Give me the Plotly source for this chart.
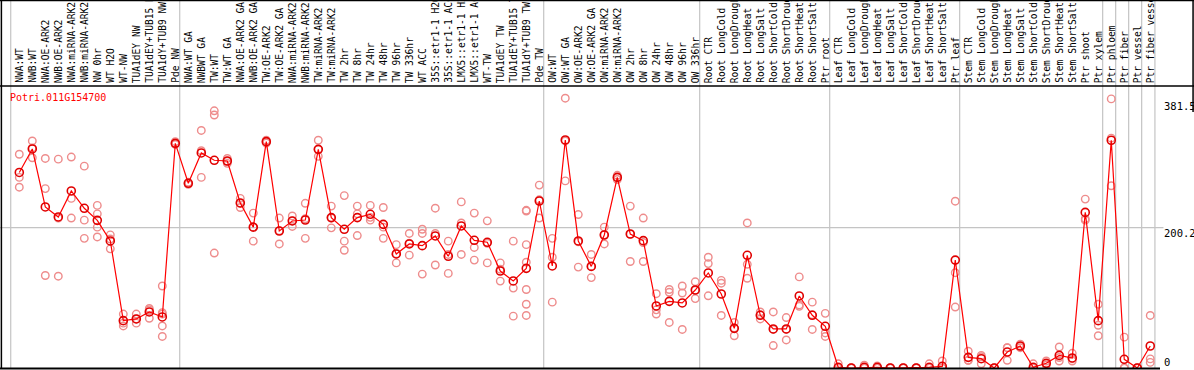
import plotly.graph_objects as go

gene_id = "Potri.011G154700"

labels = [
    "NWA:WT", "NWB:WT", "NWA:OE-ARK2", "NWB:OE-ARK2", "NWA:miRNA-ARK2", "NWB:miRNA-ARK2",
    "NW 0hr", "WT H2O", "WT-NW", "TUA1dEY NW", "TUA1dEY+TUB15 NW", "TUA1dY+TUB9 NW", "Pde NW",
    "NWA:WT GA", "NWBWT GA", "TW:WT", "TW:WT GA", "NWA:OE-ARK2 GA", "NWB:OE-ARK2 GA",
    "TW:OE-ARK2", "TW:OE-ARK2 GA", "NWA:miRNA-ARK2 GA", "NWB:miRNA-ARK2 GA", "TW:miRNA-ARK2",
    "TW:miRNA-ARK2", "TW 2hr", "TW 8hr", "TW 24hr", "TW 48hr", "TW 96hr", "TW 336hr", "WT ACC",
    "35S::etr1-1 H2O", "35S::etr1-1 ACC", "LMX5::etr1-1 H2O", "LMX5::etr1-1 ACC", "WT-TW",
    "TUA1dEY TW", "TUA1dEY+TUB15 TW", "TUA1dY+TUB9 TW", "Pde TW",
    "OW:WT", "OW:WT GA", "OW:OE-ARK2", "OW:OE-ARK2 GA", "OW:miRNA-ARK2", "OW:miRNA-ARK2",
    "OW 2hr", "OW 8hr", "OW 24hr", "OW 48hr", "OW 96hr", "OW 336hr",
    "Root CTR", "Root LongCold", "Root LongDrought", "Root LongHeat", "Root LongSalt",
    "Root ShortCold", "Root ShortDrought", "Root ShortHeat", "Root ShortSalt", "Ptr root",
    "Leaf CTR", "Leaf LongCold", "Leaf LongDrought", "Leaf LongHeat", "Leaf LongSalt",
    "Leaf ShortCold", "Leaf ShortDrought", "Leaf ShortHeat", "Leaf ShortSalt", "Ptr leaf",
    "Stem CTR", "Stem LongCold", "Stem LongDrought", "Stem LongHeat", "Stem LongSalt",
    "Stem ShortCold", "Stem ShortDrought", "Stem ShortHeat", "Stem ShortSalt",
    "Ptr shoot", "Ptr xylem", "Ptr phloem", "Ptr fiber", "Ptr vessel", "Ptr fiber vessel",
]

means = [
    279, 312.6, 229.8, 215.5, 252.6, 227.9, 210.7, 181.3, 67.6, 70, 80, 72.8, 320.6,
    263.6, 306.9, 296.4, 295.4, 235.5, 201, 323, 195.5, 209.8, 211.2, 312, 214.6,
    197.9, 214.6, 219.3, 205, 162.7, 177, 174.6, 188.4, 159.4, 202.7, 182.2, 179.4,
    138.4, 124.2, 142.2, 238.3,
    145.6, 325.4, 181.3, 145, 189.8, 272, 191.2, 181.7, 88.5, 95.1, 92.8, 111.3,
    135.6, 105.6, 56.6, 160.8, 75.2, 55.7, 55.7, 102.8, 75.2, 59.5,
    1, 0, 1, 1, 0, 0, 0, 1, 2.4, 154,
    15.2, 13.3, 0, 22.8, 31.4, 1, 6.7, 18, 14.3, 222, 67.6,
    325, 12.4, 0, 31.4,
]

replicates = [
    [305, 272, 258], [324, 314, 300], [299, 256, 132], [298, 214, 131], [301, 242, 214],
    [288, 211, 185], [232, 220, 201, 187], [190, 184, 170], [77, 64, 60], [77, 70, 64],
    [85, 83, 71], [117, 79, 77, 60, 45], [323, 320, 319],
    [265, 263, 262], [339, 310, 272], [367, 361, 164], [299, 295, 292], [242, 235, 229],
    [221, 201, 181], [325, 323, 321], [214, 196, 177], [217, 210, 202], [235, 213, 185],
    [325, 312, 302], [231, 214, 200], [246, 181, 168], [231, 220, 189], [232, 215, 211],
    [229, 201, 185], [176, 163, 150], [192, 178, 161], [198, 192, 134], [228, 192, 147],
    [181, 162, 135], [237, 207, 162], [221, 172, 154], [210, 178, 150], [150, 141, 124],
    [181, 114, 74], [225, 224, 176, 151, 112, 91, 75], [261, 240, 214],
    [185, 158, 94], [385, 324, 267], [219, 180, 144], [162, 145, 129], [201, 190, 177],
    [275, 272, 269], [231, 191, 152], [214, 179, 152], [106, 83, 77], [112, 108, 65],
    [117, 107, 55], [123, 111, 99],
    [158, 149, 103], [125, 121, 75], [65, 57, 46], [207, 148, 128], [80, 76, 70],
    [80, 55, 32], [72, 55, 40], [130, 90, 88], [94, 76, 55], [78, 50, 45],
    [6, 0, 0], [0, 0, 0], [4, 0, 0], [3, 0, 0], [0, 0, 0], [0, 0, 0], [0, 0, 0],
    [6, 0, 0], [10, 0, 0], [238, 136, 87],
    [24, 11, 11], [18, 16, 6], [0, 0, 0], [29, 29, 11], [34, 31, 29], [6, 0, 0],
    [10, 6, 4], [30, 15, 10], [21, 13, 10], [241, 213, 211], [91, 61, 46],
    [384, 328, 260], [44, 0, 0], [0, 0, 0], [75, 13, 8],
]

# first category index of each sample group (vertical separators)
group_starts = [0, 13, 41, 53, 63, 73, 84, 85, 86, 87]

axis_ticks = [0, 200.2, 381.5]

W, H = 1194, 370
T, B, L, R = 86, 2, 0, 34
x_range = [-1.485, 87.75]
y_range = [0, 402.4]

xs = list(range(len(labels)))
rx, ry = [], []
for i, reps in enumerate(replicates):
    for v in reps:
        rx.append(i)
        ry.append(v)

fig = go.Figure()
fig.add_trace(go.Scatter(
    x=rx, y=ry, mode="markers",
    marker=dict(symbol="circle-open", size=7.5, color="#EE8C8C", line=dict(width=1.4)),
    hoverinfo="skip", showlegend=False,
))
fig.add_trace(go.Scatter(
    x=xs, y=means, mode="lines+markers",
    line=dict(color="#FF0000", width=1.2),
    marker=dict(symbol="circle-open", size=8, color="#E00000", line=dict(width=1.6)),
    showlegend=False,
))

plot_h = H - T - B
top_paper = 1 + T / plot_h

shapes = []
for s in group_starts:
    shapes.append(dict(type="line", xref="x", yref="paper", x0=s - 0.66, x1=s - 0.66,
                       y0=0, y1=top_paper, line=dict(color="#C4C4C4", width=1.2), layer="below"))
shapes.append(dict(type="line", xref="x", yref="paper", x0=len(labels) - 0.64, x1=len(labels) - 0.64,
                   y0=0, y1=top_paper, line=dict(color="#C4C4C4", width=1.2), layer="below"))
shapes.append(dict(type="line", xref="paper", yref="y", x0=0, x1=1.003, y0=axis_ticks[1], y1=axis_ticks[1],
                   line=dict(color="#C4C4C4", width=1.2), layer="below"))
# black frame lines
shapes.append(dict(type="line", xref="paper", yref="paper", x0=0, x1=1.03, y0=1.0, y1=1.0,
                   line=dict(color="black", width=1.5)))
shapes.append(dict(type="line", xref="paper", yref="paper", x0=0, x1=1.03, y0=top_paper - 0.002, y1=top_paper - 0.002,
                   line=dict(color="black", width=1.5)))
shapes.append(dict(type="line", xref="paper", yref="paper", x0=0, x1=1.0, y0=-0.002, y1=-0.002,
                   line=dict(color="black", width=2)))
shapes.append(dict(type="line", xref="paper", yref="paper", x0=0.0012, x1=0.0012, y0=0, y1=top_paper,
                   line=dict(color="black", width=1.5)))
shapes.append(dict(type="line", xref="paper", yref="paper", x0=1.0285, x1=1.0285, y0=(H - B - 112) / plot_h, y1=top_paper,
                   line=dict(color="black", width=1.5)))

annotations = []
for i, lab in enumerate(labels):
    annotations.append(dict(
        x=i, y=1, xref="x", yref="paper", text=lab, showarrow=False, textangle=-90,
        xanchor="center", yanchor="bottom", yshift=1,
        font=dict(family="DejaVu Sans Mono", size=9.6, color="black"),
    ))
annotations.append(dict(
    x=0, y=1, xref="paper", yref="paper", text=gene_id, showarrow=False,
    xanchor="left", yanchor="middle", xshift=8, yshift=-11,
    font=dict(family="DejaVu Sans Mono", size=10, color="#FF0000"),
))
tick_shift = {0: 6, 1: -5, 2: -5}
for k, v in enumerate(axis_ticks):
    annotations.append(dict(
        x=1, y=v, xref="paper", yref="y", text=("%g" % v), showarrow=False,
        xanchor="left", yanchor="middle", xshift=2, yshift=tick_shift[k],
        font=dict(family="DejaVu Sans Mono", size=10.5, color="black"),
    ))

fig.update_layout(
    width=W, height=H,
    margin=dict(l=L, r=R, t=T, b=B, pad=0),
    paper_bgcolor="white", plot_bgcolor="white",
    xaxis=dict(range=x_range, showgrid=False, zeroline=False, showticklabels=False, ticks="", fixedrange=True),
    yaxis=dict(range=y_range, showgrid=False, zeroline=False, showticklabels=False, ticks="", fixedrange=True),
    shapes=shapes, annotations=annotations,
    showlegend=False,
)

fig.write_html(
    "out.html",
    config={"displayModeBar": False},
    post_script="document.body.style.margin='0';document.body.style.padding='0';document.body.style.overflow='hidden';",
)
